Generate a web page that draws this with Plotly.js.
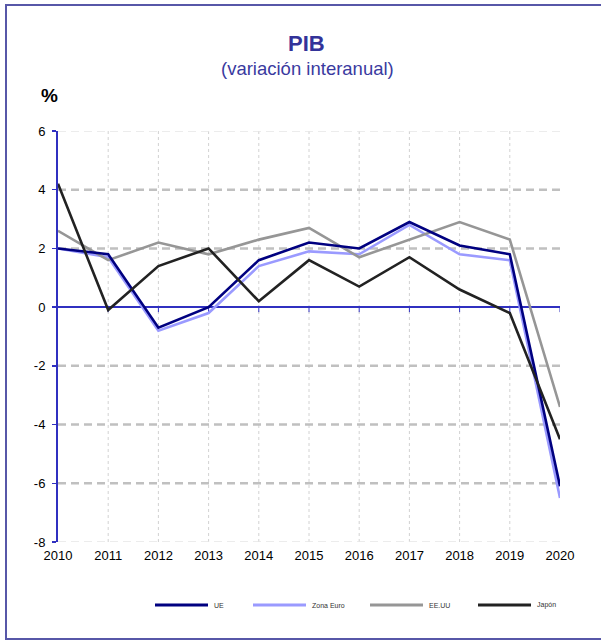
<!DOCTYPE html>
<html>
<head>
<meta charset="utf-8">
<script src="https://cdn.plot.ly/plotly-3.0.1.min.js"></script>
<style>
  html, body { margin: 0; padding: 0; background: #fff; }
  #wrap { position: relative; width: 601px; height: 641px; }
  #chart { width: 601px; height: 641px; }
  #frame { position: absolute; left: 5px; top: 4px; width: 600px; height: 632px;
           border: 2px solid #5757a8; border-right: none; pointer-events: none; box-sizing: content-box; }
</style>
</head>
<body>
<div id="wrap">
  <div id="chart"></div>
  <div id="frame"></div>
</div>
<script>
// ---- data ----
const years = [2010, 2011, 2012, 2013, 2014, 2015, 2016, 2017, 2018, 2019, 2020];
const seriesNames = ["UE", "Zona Euro", "EE.UU", "Japón"];
const ue       = [2.0, 1.8, -0.7, 0.0, 1.6, 2.2, 2.0, 2.9, 2.1, 1.8, -6.1];
const zonaEuro = [2.0, 1.7, -0.8, -0.2, 1.4, 1.9, 1.8, 2.8, 1.8, 1.6, -6.5];
const eeuu     = [2.6, 1.6, 2.2, 1.8, 2.3, 2.7, 1.7, 2.3, 2.9, 2.3, -3.4];
const japon    = [4.2, -0.1, 1.4, 2.0, 0.2, 1.6, 0.7, 1.7, 0.6, -0.2, -4.5];
const yTicks = [-8, -6, -4, -2, 0, 2, 4, 6];
const yTickLabels = ["-8", "-6", "-4", "-2", "0", "2", "4", "6"];
const xTickLabels = years.map(String);
const mainGrid = [4, 2, -2, -4, -6];
const edgeGrid = [6, -8];

// ---- styles ----
const colors = {"UE": "#000080", "Zona Euro": "#9a9aff", "EE.UU": "#969696", "Japón": "#222222"};
const values = {"UE": ue, "Zona Euro": zonaEuro, "EE.UU": eeuu, "Japón": japon};
const drawOrder = ["Zona Euro", "EE.UU", "UE", "Japón"];
const axisBlue = "#3030c0";
const FONT = "Liberation Sans, Arial, sans-serif";

// plot area in pixels
const L = 58, R = 41, T = 131, B = 99, W = 601, H = 641;
const PW = W - L - R, PH = H - T - B;
const px = x => (x - L) / PW;
const py = y => (H - B - y) / PH;

const traces = drawOrder.map(name => ({
  type: "scatter", mode: "lines", name: name,
  x: years, y: values[name],
  line: {color: colors[name], width: 2.6},
  showlegend: false, hoverinfo: "x+y+name"
}));

const shapes = [];
// vertical dotted grid
years.slice(1, -1).forEach(yr => shapes.push({
  type: "line", xref: "x", yref: "paper", x0: yr, x1: yr, y0: 0, y1: 1,
  line: {color: "#d2d2d2", width: 1, dash: "dot"}, layer: "below"
}));
// horizontal dashed grid
mainGrid.forEach(v => shapes.push({
  type: "line", xref: "paper", yref: "y", x0: 0, x1: 1, y0: v, y1: v,
  line: {color: "#c0c0c0", width: 2.5, dash: "8px,5px"}, layer: "below"
}));
edgeGrid.forEach(v => shapes.push({
  type: "line", xref: "paper", yref: "y", x0: 0, x1: 1, y0: v, y1: v,
  line: {color: "#e6e6e6", width: 1.5, dash: "8px,5px"}, layer: "below"
}));
// tick marks on the zero line
years.slice(1).forEach(yr => shapes.push({
  type: "line", xref: "x", yref: "y", ysizemode: "pixel", yanchor: 0,
  x0: yr, x1: yr, y0: 0, y1: -5,
  line: {color: axisBlue, width: 1}, layer: "below"
}));

// custom legend (line samples + labels)
const legendStarts = [155, 253, 370, 478];
const legendLen = 53, legendY = 605;
const annotations = [];
seriesNames.forEach((name, i) => {
  shapes.push({
    type: "line", xref: "paper", yref: "paper",
    x0: px(legendStarts[i]), x1: px(legendStarts[i] + legendLen),
    y0: py(legendY), y1: py(legendY),
    line: {color: colors[name], width: 3}
  });
  annotations.push({
    xref: "paper", yref: "paper", x: px(legendStarts[i] + legendLen + 4), y: py(legendY),
    xanchor: "left", yanchor: "middle", showarrow: false, text: name,
    font: {family: FONT, size: 7, color: "#333"}
  });
});

annotations.push(
  {xref: "paper", yref: "paper", x: px(306), y: py(44), xanchor: "center", yanchor: "middle",
   showarrow: false, text: "<b>PIB</b>", font: {family: FONT, size: 22, color: "#333399"}},
  {xref: "paper", yref: "paper", x: px(307), y: py(68), xanchor: "center", yanchor: "middle",
   showarrow: false, text: "(variación interanual)", font: {family: FONT, size: 18.5, color: "#3a3a9f"}},
  {xref: "paper", yref: "paper", x: px(49), y: py(95), xanchor: "center", yanchor: "middle",
   showarrow: false, text: "<b>%</b>", font: {family: FONT, size: 19, color: "#000"}}
);

const layout = {
  width: W, height: H,
  margin: {l: L, r: R, t: T, b: B, pad: 0},
  paper_bgcolor: "#fff", plot_bgcolor: "#fff",
  font: {family: FONT, size: 13, color: "#000"},
  showlegend: false,
  xaxis: {
    type: "linear", range: [2010, 2020], tickvals: years, ticktext: xTickLabels,
    showgrid: false, zeroline: false, showline: false, ticks: "",
    ticklabelstandoff: 4, tickfont: {family: FONT, size: 13, color: "#000"}, fixedrange: true
  },
  yaxis: {
    range: [-8, 6], tickvals: yTicks, ticktext: yTickLabels,
    showgrid: false, zeroline: true, zerolinecolor: axisBlue, zerolinewidth: 1.3,
    showline: true, linecolor: axisBlue, linewidth: 2,
    ticks: "outside", ticklen: 4, tickcolor: axisBlue, tickwidth: 1.3,
    ticklabelstandoff: 4, tickfont: {family: FONT, size: 13, color: "#000"}, fixedrange: true
  },
  shapes: shapes,
  annotations: annotations
};

Plotly.newPlot("chart", traces, layout, {displayModeBar: false, staticPlot: true});
</script>
</body>
</html>
